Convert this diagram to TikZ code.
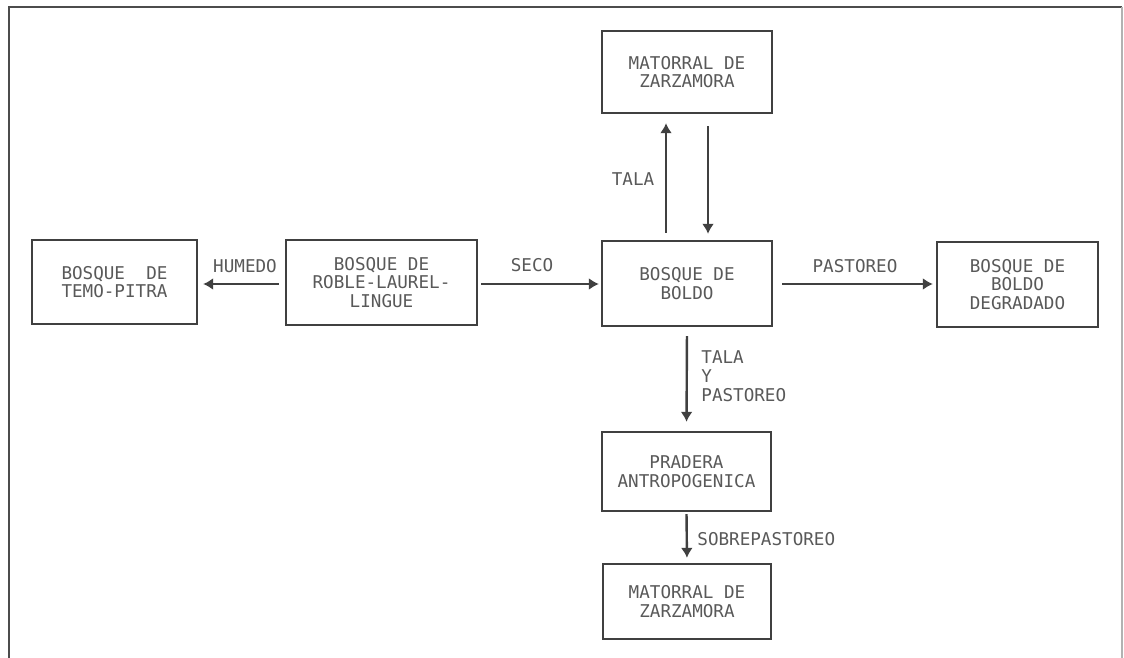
\documentclass[tikz,border=0pt]{standalone}
\usepackage{fontspec}
\usepackage{tikz}
\usetikzlibrary{arrows.meta}
\newfontfamily\maqfont{DejaVu Sans Mono}
\tikzset{
	caja/.style={draw=black!75, line width=1.2pt, inner sep=0pt, align=center, text=black!65, font=\maqfont\fontsize{8.8}{9.4}\selectfont},
	rotulo/.style={inner sep=0pt, text=black!65, font=\maqfont\fontsize{8.8}{9.4}\selectfont},
	flecha/.style={draw=black!75, line width=1.2pt, -{Latex[length=5pt,width=6pt]}}
}

\begin{document}
\begin{tikzpicture}[x=0.5pt, y=-0.5pt]
		%%%%% START %%%%%
		
		\useasboundingbox (0, 0) rectangle (1124, 658);
		\clip (0, 0) rectangle (1124, 658);
		\fill[white] (0, 0) rectangle (1124, 658);
		
		% marco
		\draw[line width=1.3pt, color=black!70] (9, 700) -- (9, 7) -- (1122, 7);
		\draw[line width=0.6pt, color=black!30] (1122, 7) -- (1122, 700);
		
		% cajas
		\node[caja, minimum width=82.5pt, minimum height=42pt] (temo) at (114.5, 282) {BOSQUE\ \ DE\\TEMO-PITRA};
		\node[caja, minimum width=95.5pt, minimum height=42.5pt] (roble) at (381.5, 282.5) {BOSQUE DE\\ROBLE-LAUREL-\\LINGUE};
		\node[caja, minimum width=85pt, minimum height=42.5pt] (boldo) at (687, 283.5) {BOSQUE DE\\BOLDO};
		\node[caja, minimum width=80.5pt, minimum height=42.5pt] (degradado) at (1017.5, 284.5) {BOSQUE DE\\BOLDO\\DEGRADADO};
		\node[caja, minimum width=85pt, minimum height=41pt] (sup) at (687, 72) {MATORRAL DE\\ZARZAMORA};
		\node[caja, minimum width=84.5pt, minimum height=39.5pt] (pradera) at (686.5, 471.5) {PRADERA\\ANTROPOGENICA};
		\node[caja, minimum width=84pt, minimum height=37.5pt] (inf) at (687, 601.5) {MATORRAL DE\\ZARZAMORA};
		
		% flechas
		\draw[flecha, shorten <=3pt, shorten >=2.5pt] (roble.west |- 0, 284) -- (temo.east |- 0, 284);
		\draw[flecha, shorten <=1.5pt, shorten >=1pt] (roble.east |- 0, 284) -- (boldo.west |- 0, 284);
		\draw[flecha, shorten <=4.5pt, shorten >=1.5pt] (boldo.east |- 0, 284) -- (degradado.west |- 0, 284);
		\draw[flecha, shorten <=3.5pt, shorten >=4.5pt] ([xshift=-10.5pt]boldo.north) -- ([xshift=-10.5pt]sup.south);
		\draw[flecha, shorten <=6pt, shorten >=3pt] ([xshift=10.5pt]sup.south) -- ([xshift=10.5pt]boldo.north);
		\draw[flecha, shorten <=4.5pt, shorten >=4.5pt] (boldo.south) -- (pradera.north);
		\draw[flecha, shorten <=1pt, shorten >=2.5pt] (pradera.south) -- (inf.north);
		
		% rotulos
		\node[rotulo] (humedo) at (245, 266) {HUMEDO};
		\node[rotulo] (seco) at (532, 265) {SECO};
		\node[rotulo] (pastoreo) at (855, 266) {PASTOREO};
		\node[rotulo] (tala) at (633, 179) {TALA};
		\node[rotulo, anchor=west, align=left] (talapast) at (701, 376) {TALA\\Y\\PASTOREO};
		\node[rotulo, anchor=west] (sobrep) at (697, 539) {SOBREPASTOREO};
		
		%%%%% END %%%%%
	\end{tikzpicture}
\end{document}
